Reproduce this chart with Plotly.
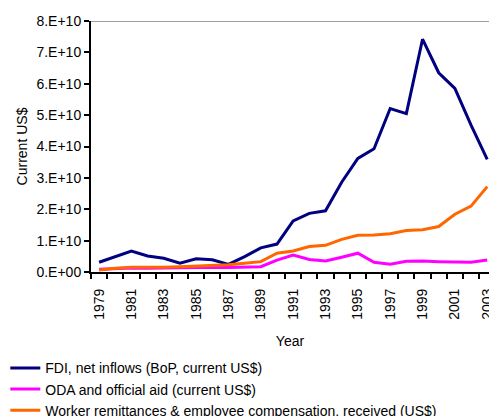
import plotly.graph_objects as go

years = list(range(1979, 2004))
fdi = [0.31, 0.49, 0.67, 0.51, 0.44, 0.28, 0.42, 0.39, 0.24, 0.49, 0.77, 0.89, 1.63,
       1.87, 1.95, 2.86, 3.62, 3.93, 5.21, 5.05, 7.42, 6.35, 5.85, 4.68, 3.59]
oda = [0.09, 0.12, 0.13, 0.12, 0.13, 0.14, 0.14, 0.15, 0.14, 0.15, 0.17, 0.38, 0.54,
       0.40, 0.35, 0.47, 0.60, 0.31, 0.25, 0.34, 0.35, 0.33, 0.33, 0.31, 0.38]
rem = [0.06, 0.12, 0.15, 0.14, 0.15, 0.17, 0.19, 0.21, 0.23, 0.28, 0.33, 0.60, 0.67,
       0.81, 0.85, 1.04, 1.17, 1.18, 1.22, 1.32, 1.35, 1.45, 1.84, 2.10, 2.72]
scale = 1e10
names = ["FDI, net inflows (BoP, current US$)",
         "ODA and official aid (current US$)",
         "Worker remittances & employee compensation, received (US$)"]
colors = ["#000080", "#FF00FF", "#FF6600"]
ytick_vals = [i * 1e10 for i in range(9)]
ytick_text = ["0.E+00", "1.E+10", "2.E+10", "3.E+10", "4.E+10", "5.E+10", "6.E+10", "7.E+10", "8.E+10"]
xtick_vals = list(range(1979, 2004, 2))

FONT = "Liberation Sans, Arial, sans-serif"

fig = go.Figure()
for series, name, col in zip([fdi, oda, rem], names, colors):
    fig.add_trace(go.Scatter(x=years, y=[v * scale for v in series], mode="lines",
                             name=name, line=dict(color=col, width=3)))

fig.update_layout(
    width=489, height=416,
    margin=dict(l=91, r=0, t=21, b=144, autoexpand=False),
    paper_bgcolor="white", plot_bgcolor="white",
    font=dict(family=FONT, size=14, color="black"),
    showlegend=True,
    legend=dict(x=-0.2153, xanchor="left", y=-0.32, yanchor="top",
                font=dict(size=14), bgcolor="rgba(0,0,0,0)", tracegroupgap=0),
)
fig.update_xaxes(
    range=[1978.5, 2003.11], tickvals=xtick_vals, ticktext=[str(v) for v in xtick_vals],
    tickangle=-90, ticks="outside", ticklen=9, tickcolor="rgba(0,0,0,0)",
    ticklabeloverflow="allow",
    minor=dict(tickvals=[y - 0.5 for y in years], ticks="outside", ticklen=5,
               tickcolor="black", tickwidth=1.5),
    showline=True, linecolor="black", linewidth=2, showgrid=False, zeroline=False,
    title=dict(text="Year", font=dict(size=14), standoff=17),
)
fig.update_yaxes(
    range=[0, 8e10], tickvals=ytick_vals, ticktext=ytick_text,
    ticks="outside", ticklen=5, tickcolor="black", tickwidth=1.5,
    showline=True, linecolor="black", linewidth=2, showgrid=False, zeroline=False,
    title=dict(text="Current US$", font=dict(size=14), standoff=6),
)
fig.add_shape(type="line", xref="paper", yref="y", x0=0, x1=1, y0=8e10, y1=8e10,
              line=dict(color="#808080", width=1.5), layer="below")

fig.write_html("out.html", config={"displayModeBar": False},
               post_script="document.body.style.margin='0px';"
                           "document.body.style.overflow='hidden';")
